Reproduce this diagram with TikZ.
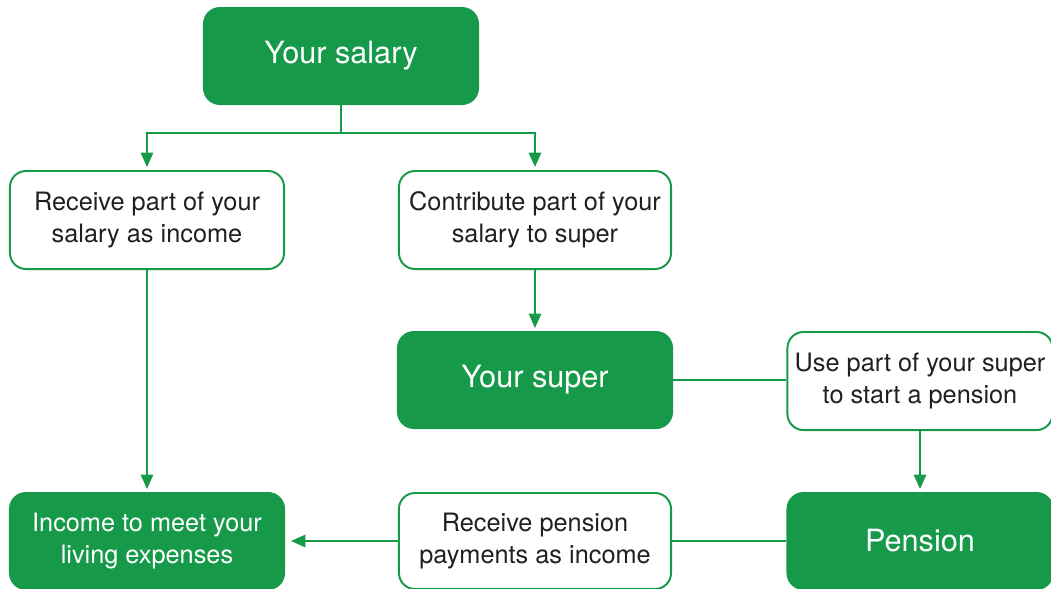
\documentclass[tikz,border=0pt]{standalone}
\usepackage{fontspec}
\setmainfont{TeX Gyre Heros}
\usetikzlibrary{arrows.meta,positioning}
\definecolor{supergreen}{RGB}{22,154,74}
\definecolor{bodytext}{RGB}{35,31,32}

\begin{document}
\begin{tikzpicture}[x=0.025cm,y=-0.025cm,
    box/.style={draw=supergreen,line width=1.4pt,rounded corners=0.4cm,align=center,
      text=bodytext,font=\fontsize{18}{22.8}\selectfont,
      minimum width=6.85cm,minimum height=2.45cm,inner sep=0pt},
    filledbox/.style={box,fill=supergreen,text=white,minimum height=2.4cm},
    bigtext/.style={font=\fontsize{21.8}{26}\selectfont},
    link/.style={draw=supergreen,line width=1.3pt},
    flow/.style={link,-{Triangle[width=3.1mm,length=3.6mm]},shorten >=0.75mm}]
    \clip (0,0) rectangle (1051,588);

    % boxes
    \node[filledbox,bigtext] (salary) at (341,56) {Your salary};
    \node[box] (recv) at (147,220) {Receive part of your\\salary as income};
    \node[box,minimum width=6.8cm] (contrib) at (535,220) {Contribute part of your\\salary to super};
    \node[filledbox,bigtext] (super) at (535,380) {Your super};
    \node[box,minimum width=6.625cm] (usepart) at (920,381) {Use part of your super\\to start a pension};
    \node[filledbox] (income) at (147,541) {Income to meet your\\living expenses};
    \node[box,minimum width=6.8cm,minimum height=2.4cm] (recvpen) at (535,541) {Receive pension\\payments as income};
    \node[filledbox,bigtext,minimum width=6.625cm] (pension) at (920,541) {Pension};

    % connectors
    \coordinate (split) at (341,133);
    \draw[link] (salary.south) -- (split);
    \draw[flow] (split) -| (recv.north);
    \draw[flow] (split) -| (contrib.north);
    \draw[flow] (contrib) -- (super);
    \draw[flow] (recv) -- (income);
    \draw[link] (super.east) -- (super.east -| usepart.west);
    \draw[flow] (usepart) -- (pension);
    \draw[link] (pension) -- (recvpen);
    \draw[flow,shorten >=1.5mm] (recvpen) -- (income);
\end{tikzpicture}
\end{document}
